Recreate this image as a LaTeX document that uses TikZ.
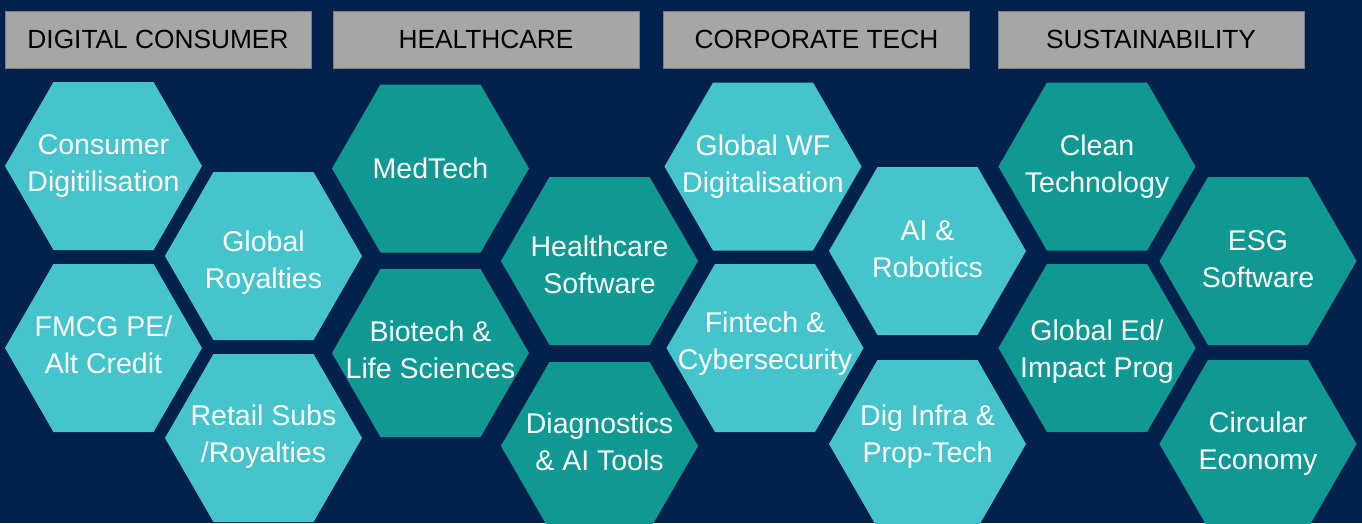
\documentclass[tikz,border=0pt]{standalone}
\usepackage{fontspec}
\setmainfont{Liberation Sans}
\definecolor{bgnavy}{HTML}{01214D}
\definecolor{hexlight}{HTML}{46C4CB}
\definecolor{hexteal}{HTML}{0F9992}
\definecolor{hdrgray}{HTML}{A6A6A6}
\definecolor{hdrline}{HTML}{7F7F7F}
\tikzset{
  hdrbox/.style={fill=hdrgray, draw=hdrline, line width=0.8pt, minimum width=306pt, minimum height=57pt, inner sep=0pt, text=black, font=\fontsize{26.3}{30}\selectfont},
  hextext/.style={text=white, align=center, inner sep=0pt, font=\fontsize{28.5}{37}\selectfont},
  light/.style={fill=hexlight},
  teal/.style={fill=hexteal}
}
\newcommand\hexcell[6]{%
  \fill[#4] (#2,#3) ++(98.5,0) -- ++(-48.5,-84) -- ++(-100,0) -- ++(-48.5,84) -- ++(48.5,84) -- ++(100,0) -- cycle;
  \node[hextext] (#1) at (#2,#3+#6) {#5};}
\begin{document}
\begin{tikzpicture}[x=1pt,y=-1pt]
\useasboundingbox (0,0) rectangle (1362,523);
\clip (0,0) rectangle (1362,523);
\fill[bgnavy] (0,0) rectangle (1362,523);
% headers
\node[hdrbox] (h1) at (158,39.5) {DIGITAL CONSUMER};
\node[hdrbox] (h2) at (486,39.5) {HEALTHCARE};
\node[hdrbox] (h3) at (816.5,39.5) {CORPORATE TECH};
\node[hdrbox] (h4) at (1151,39.5) {SUSTAINABILITY};
% digital consumer
\hexcell{c1}{103.5}{166}{light}{Consumer\\Digitilisation}{0}
\hexcell{c2}{263.5}{256}{light}{Global\\Royalties}{7}
\hexcell{c3}{103.5}{348}{light}{FMCG PE/\\Alt Credit}{-3}
\hexcell{c4}{263.5}{438}{light}{Retail Subs\\/Royalties}{-1}
% healthcare
\hexcell{m1}{430.5}{168.5}{teal}{MedTech}{0}
\hexcell{m2}{599.5}{261}{teal}{Healthcare\\Software}{4}
\hexcell{m3}{430.5}{353}{teal}{Biotech \&\\Life Sciences}{-3}
\hexcell{m4}{599.5}{446}{teal}{Diagnostics\\\& AI Tools}{-4}
% corporate tech
\hexcell{t1}{763}{166.5}{light}{Global WF\\Digitalisation}{0}
\hexcell{t2}{927.5}{251}{light}{AI \&\\Robotics}{-2}
\hexcell{t3}{765}{348}{light}{Fintech \&\\Cybersecurity}{-4}
\hexcell{t4}{927.5}{444}{light}{Dig Infra \&\\Prop-Tech}{-7}
% sustainability
\hexcell{s1}{1097}{166.5}{teal}{Clean\\Technology}{0}
\hexcell{s2}{1258}{261}{teal}{ESG\\Software}{-2}
\hexcell{s3}{1097}{348}{teal}{Global Ed/\\Impact Prog}{4}
\hexcell{s4}{1258}{444}{teal}{Circular\\Economy}{0}
\end{tikzpicture}
\end{document}
